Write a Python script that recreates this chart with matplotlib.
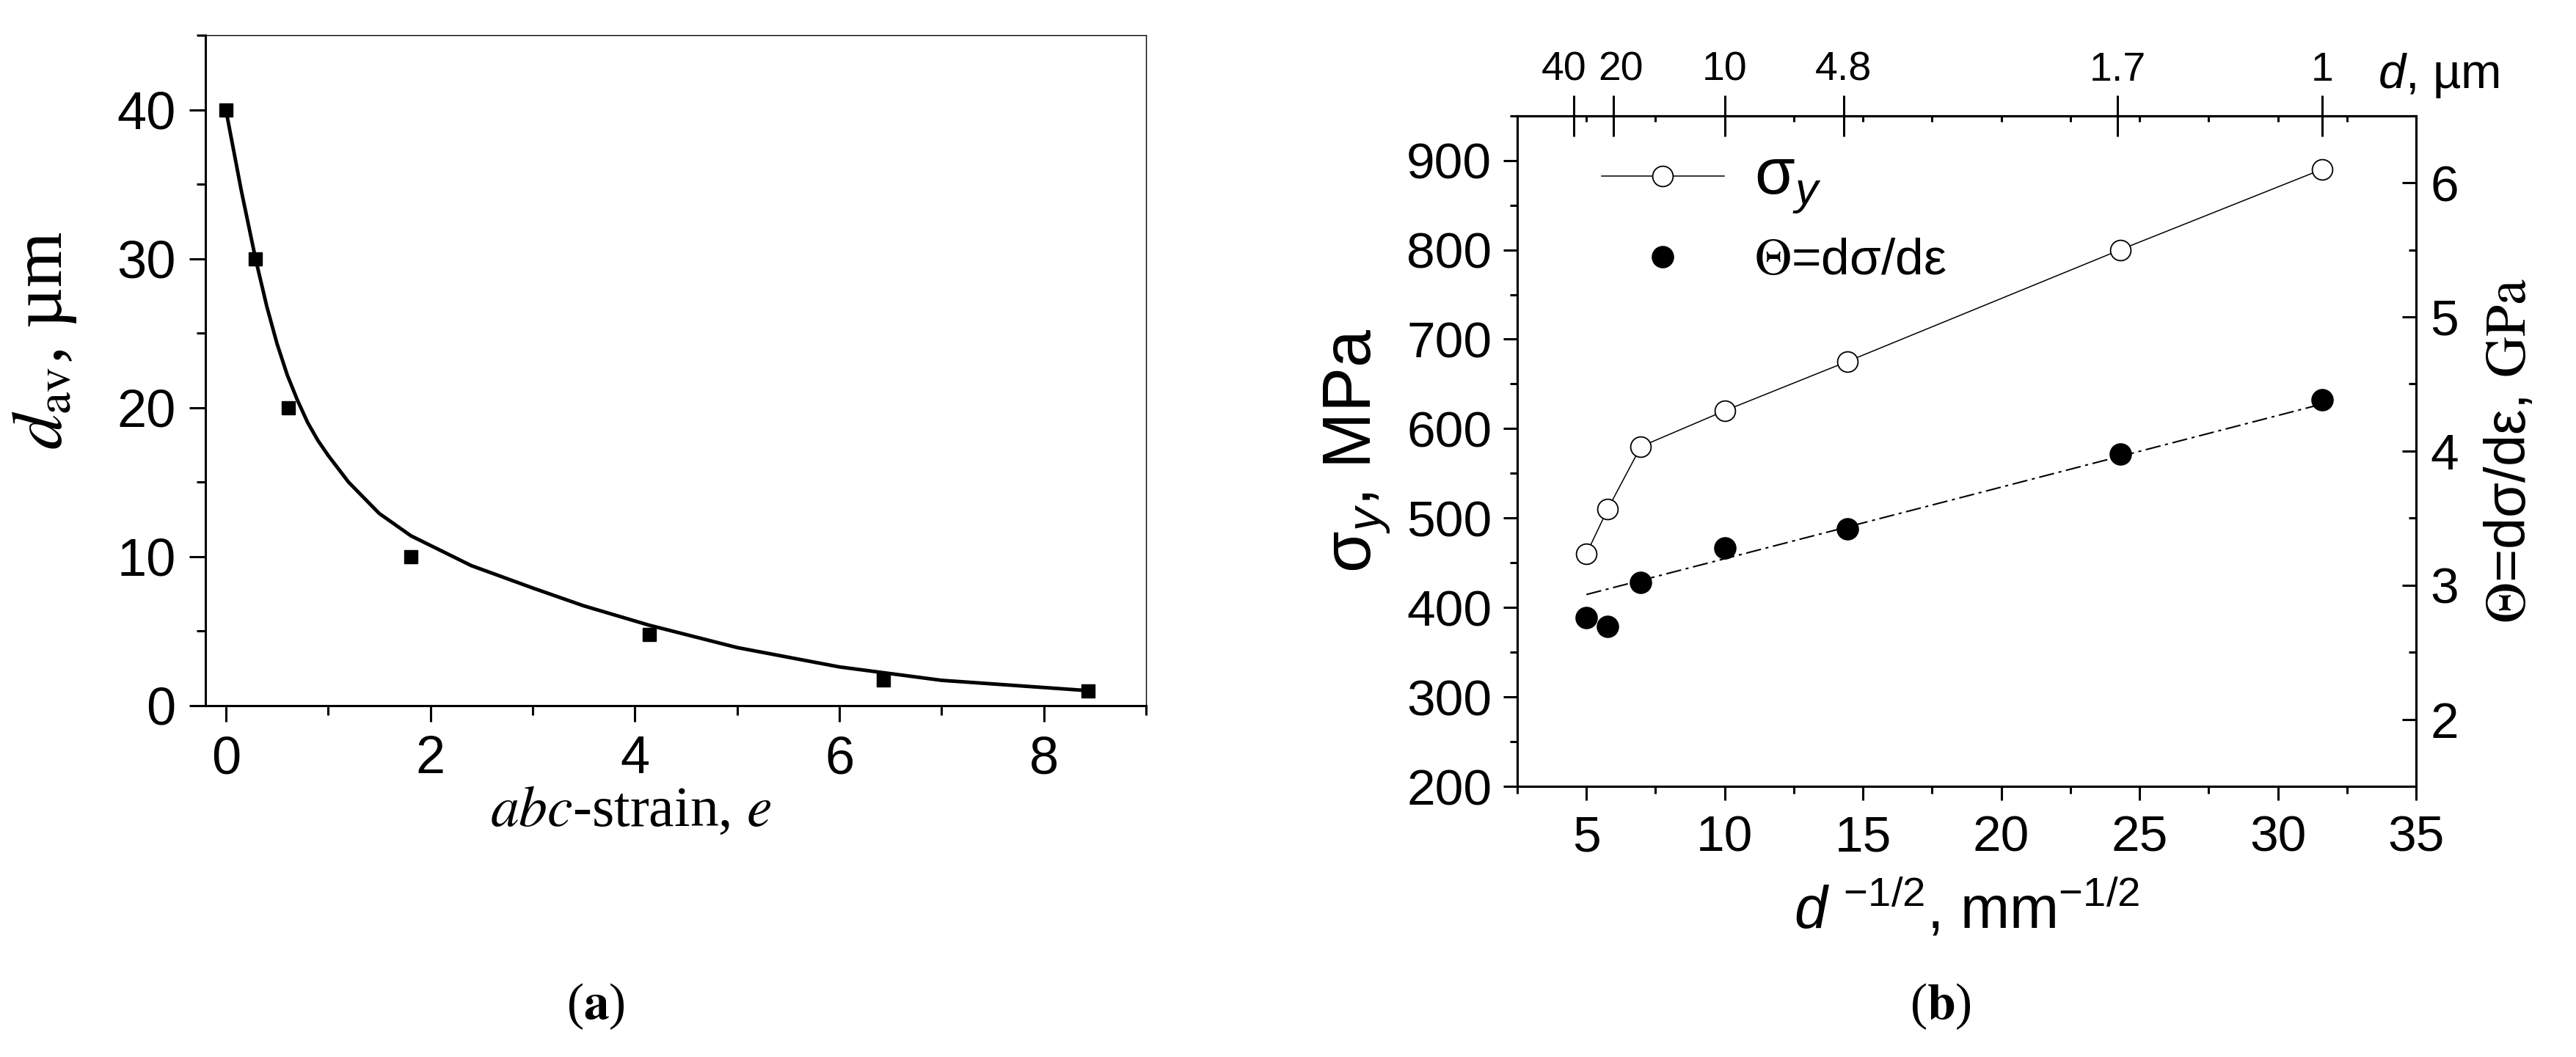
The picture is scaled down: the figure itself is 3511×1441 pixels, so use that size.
import matplotlib
matplotlib.use("Agg")
import matplotlib.pyplot as plt
import matplotlib.transforms as mtransforms
from matplotlib.lines import Line2D
from matplotlib.ticker import MultipleLocator

plt.rcParams["font.family"] = ["Liberation Sans", "DejaVu Sans"]
plt.rcParams["mathtext.fontset"] = "custom"
plt.rcParams["mathtext.rm"] = "Liberation Sans"
plt.rcParams["mathtext.it"] = "Liberation Sans:italic"
plt.rcParams["mathtext.bf"] = "Liberation Sans:bold"

# ---------------------------------------------------------------------
# (a) mean grain size vs abc-strain
# ---------------------------------------------------------------------
strain = [0.0, 0.29, 0.61, 1.81, 4.14, 6.43, 8.43]
d_av = [40.0, 30.0, 20.0, 10.0, 4.8, 1.7, 1.0]

# fitted curve
fit_strain = [0.0, 0.15, 0.29, 0.4, 0.5, 0.6, 0.7, 0.8, 0.9, 1.0, 1.2, 1.5,
              1.81, 2.4, 3.0, 3.5, 4.14, 5.0, 6.0, 7.0, 8.45]
fit_d = [40.0, 34.6, 30.0, 26.8, 24.3, 22.2, 20.5, 19.0, 17.8, 16.8, 15.0, 12.9,
         11.4, 9.4, 7.9, 6.7, 5.4, 3.9, 2.6, 1.7, 1.0]

# ---------------------------------------------------------------------
# (b) Hall-Petch plot
# ---------------------------------------------------------------------
d_inv_sqrt = [5.0, 5.77, 6.97, 10.0, 14.43, 24.3, 31.6]
sigma_y = [460, 510, 580, 620, 675, 800, 890]
theta = [2.76, 2.69, 3.02, 3.28, 3.42, 3.98, 4.38]
theta_fit_x = [5.0, 31.6]
theta_fit = [2.93, 4.35]

top_tick_pos = [4.53, 5.97, 10.0, 14.3, 24.2, 31.6]
top_tick_labels = ["40", "20", "10", "4.8", "1.7", "1"]

W, H = 3511, 1441
fig = plt.figure(figsize=(W / 100, H / 100), dpi=100)

# ---- panel (a) ----
ax_a = fig.add_axes([280 / W, (H - 962) / H, 1282 / W, 914 / H])
ax_a.plot(fit_strain, fit_d, color="black", lw=3.5, zorder=2)
ax_a.plot(strain, d_av, "s", color="black", ms=13, zorder=3, clip_on=False)
ax_a.set_xlim(-0.2, 9)
ax_a.set_ylim(0, 45)
ax_a.xaxis.set_major_locator(MultipleLocator(2))
ax_a.xaxis.set_minor_locator(MultipleLocator(1))
ax_a.yaxis.set_major_locator(MultipleLocator(10))
ax_a.yaxis.set_minor_locator(MultipleLocator(5))
ax_a.tick_params(which="both", direction="out", top=False, right=False,
                 width=2.2, labelsize=52, pad=13)
ax_a.tick_params(which="major", length=16)
ax_a.tick_params(which="minor", length=9)
for side in ["left", "bottom"]:
    ax_a.spines[side].set_linewidth(2.2)
for side in ["top", "right"]:
    ax_a.spines[side].set_linewidth(1.0)

ax_a.set_xlabel(r"$abc$-strain, $e$", fontsize=56, family=["Liberation Serif"],
                math_fontfamily="stix")
ax_a.xaxis.set_label_coords(0.452, -0.12)
ax_a.set_ylabel(r"$d_{\mathrm{av}}$, µm", fontsize=70, family=["Liberation Serif"],
                math_fontfamily="stix")
ax_a.yaxis.set_label_coords(-0.135, 0.545)

# ---- panel (b) ----
ax_b = fig.add_axes([2068 / W, (H - 1072) / H, 1225 / W, 914.3 / H])
ax_b.plot(d_inv_sqrt, sigma_y, "-o", color="black", lw=1.1, mfc="white",
          mec="black", ms=20, mew=1.3, zorder=3)
ax_b.set_xlim(2.5, 35)
ax_b.set_ylim(200, 950)
ax_b.xaxis.set_major_locator(MultipleLocator(5))
ax_b.xaxis.set_minor_locator(MultipleLocator(2.5))
ax_b.yaxis.set_major_locator(MultipleLocator(100))
ax_b.yaxis.set_minor_locator(MultipleLocator(50))
ax_b.tick_params(which="both", direction="out", top=False, right=False,
                 width=2.2, labelsize=50, pad=11)
ax_b.tick_params(which="major", length=14)
ax_b.tick_params(which="minor", length=7)
ax_b.tick_params(axis="x", pad=14)
for sp in ax_b.spines.values():
    sp.set_linewidth(2.2)

ax_b.set_xlabel(r"$d$ $^{-1/2}$, mm$^{-1/2}$", fontsize=58, labelpad=16)
ax_b.set_ylabel(r"σ$_{y}$, MPa", fontsize=66, labelpad=14)

ax_t = ax_b.twinx()
ax_t.plot(theta_fit_x, theta_fit, color="black", lw=1.5,
          linestyle=(0, (10, 3, 2, 3)), zorder=2)
ax_t.plot(d_inv_sqrt, theta, "o", color="black", ms=21, zorder=3)
ax_t.set_ylim(1.5, 6.5)
ax_t.yaxis.set_major_locator(MultipleLocator(1))
ax_t.yaxis.set_minor_locator(MultipleLocator(0.5))
ax_t.tick_params(which="both", direction="in", width=2.2, labelsize=50, pad=14)
ax_t.tick_params(which="major", length=14)
ax_t.tick_params(which="minor", length=7)
for sp in ax_t.spines.values():
    sp.set_linewidth(2.2)
ax_t.set_ylabel(r"$\Theta$=dσ/dε, $\mathrm{GPa}$", fontsize=56,
                math_fontfamily="stix", labelpad=24)

# top axis: grain size in micrometres
sec = ax_b.secondary_xaxis("top")
sec.set_xticks(top_tick_pos, labels=top_tick_labels)
sec.xaxis.set_minor_locator(MultipleLocator(2.5))
sec.tick_params(which="major", direction="inout", length=40, width=2.2,
                labelsize=40, pad=6)
sec.tick_params(which="minor", direction="in", length=6, width=2.2)
sec.spines["top"].set_linewidth(2.2)
for lab in sec.get_xticklabels():
    lab.set_family(["Liberation Sans Narrow", "Liberation Sans"])
# the two left-most labels sit apart from their ticks in the original
top_ticks = sec.xaxis.get_major_ticks()
for tk, dx in [(top_ticks[0], -0.13), (top_ticks[1], 0.10)]:
    tk.label2.set_transform(tk.label2.get_transform()
                            + mtransforms.ScaledTranslation(dx, 0, fig.dpi_scale_trans))
ax_b.text(0.9576, 1.041, r"$d$, µm", transform=ax_b.transAxes, fontsize=48,
          ha="left", va="baseline")

# legend
h_sig = Line2D([], [], color="black", lw=1.1, marker="o", mfc="white",
               mec="black", ms=20, mew=1.3)
h_th = Line2D([], [], linestyle="none", marker="o", color="black", ms=21)
leg = ax_t.legend([h_sig, h_th], [r"σ$_{y}$", r"$\Theta$=dσ/dε"],
                  loc="upper left", bbox_to_anchor=(0.094, 0.955),
                  frameon=False, fontsize=50, handlelength=2.4,
                  handletextpad=0.6, labelspacing=0.45, borderpad=0,
                  borderaxespad=0, numpoints=1)
leg.get_texts()[0].set_fontsize(64)
leg.get_texts()[1].set_math_fontfamily("stix")

# captions
fig.text(812 / W, 1 - 1372 / H, r"($\mathbf{a}$)", ha="center", va="center",
         fontsize=50, family=["Liberation Serif"], math_fontfamily="stix")
fig.text(2645 / W, 1 - 1372 / H, r"($\mathbf{b}$)", ha="center", va="center",
         fontsize=50, family=["Liberation Serif"], math_fontfamily="stix")

fig.savefig("out.png", dpi=100)
